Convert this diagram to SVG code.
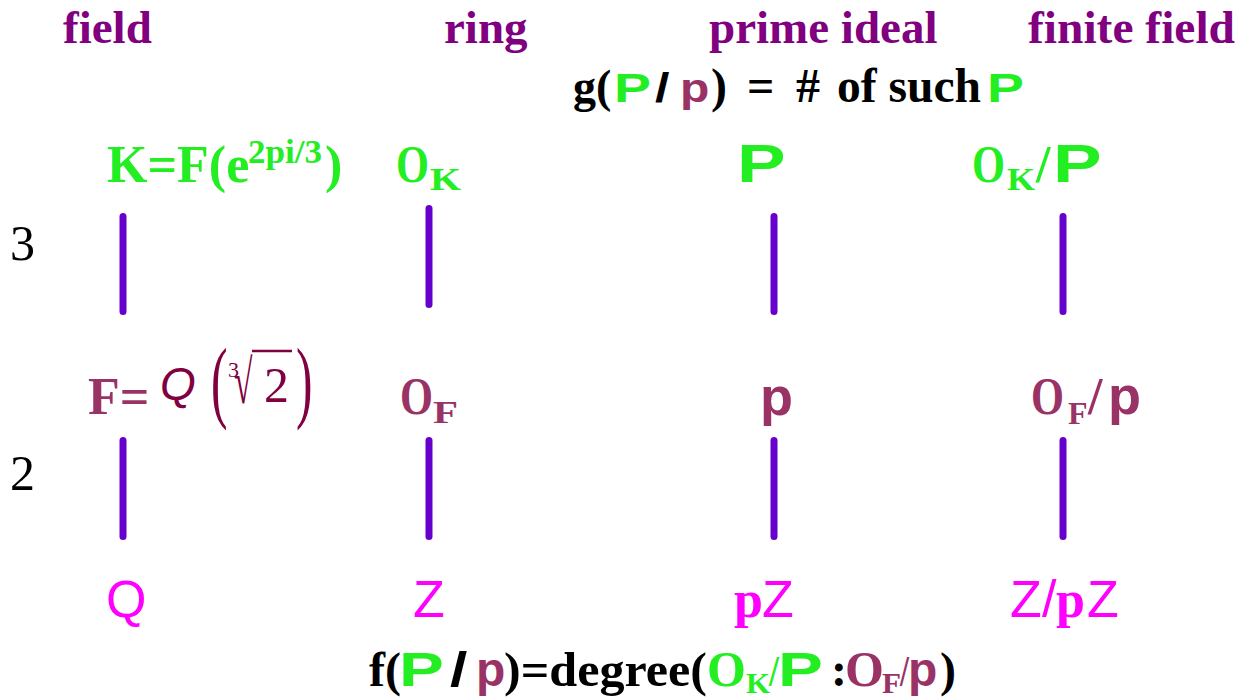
<svg xmlns="http://www.w3.org/2000/svg" width="1248" height="698" viewBox="0 0 1248 698">
<style>
.tb{font-family:"Liberation Serif","Times New Roman",serif;font-weight:bold}
.tr{font-family:"Liberation Serif","Times New Roman",serif}
.sb{font-family:"Liberation Sans",Arial,sans-serif;font-weight:bold}
.sr{font-family:"Liberation Sans",Arial,sans-serif}
.hd{fill:#800080;font-size:47px}
.g{fill:#22ee22}
.m{fill:#993366}
.dm{fill:#800040}
.mg{fill:#ff00ff}
.k{fill:#000000}
#connectors line{stroke:#6600cc;stroke-width:7;stroke-linecap:round}
</style>
<rect width="1248" height="698" fill="#ffffff"/>
<g id="headers">
<text class="tb hd" x="63" y="43">field</text>
<text class="tb hd" x="444" y="43">ring</text>
<text class="tb hd" x="709" y="43">prime ideal</text>
<text class="tb hd" x="1028" y="43" textLength="207" lengthAdjust="spacingAndGlyphs">finite field</text>
</g>
<g id="g-formula">
<text class="tb k" x="573" y="102" font-size="46">g(</text>
<text class="sb g" transform="translate(614,102) scale(1.35,1)" font-size="41">P</text>
<text class="sb k" transform="translate(655,102) scale(1.3,1)" font-size="40">/</text>
<text class="sb m" transform="translate(680,102) scale(1.2,1)" font-size="40">p</text>
<text class="tb k" x="711" y="102" font-size="48"><tspan x="711">)</tspan><tspan x="747">=</tspan><tspan x="796">#</tspan><tspan x="837" textLength="144" lengthAdjust="spacingAndGlyphs">of such</tspan></text>
<text class="sb g" transform="translate(987,102) scale(1.35,1)" font-size="41">P</text>
</g>
<g id="degrees">
<text class="tr k" x="10" y="260" font-size="50">3</text>
<text class="tr k" x="10" y="490" font-size="50">2</text>
</g>
<g id="node-K">
<text class="tb g" x="107" y="182" font-size="52">K=F(e</text>
<text class="tb g" x="248" y="163" font-size="34" textLength="74" lengthAdjust="spacingAndGlyphs">2pi/3</text>
<text class="tb g" x="325" y="182" font-size="52">)</text>
</g>
<g id="node-OK">
<text class="tb g" x="396" y="182" font-size="52" textLength="33" lengthAdjust="spacingAndGlyphs">O</text>
<text class="tb g" x="430" y="190" font-size="32" textLength="31" lengthAdjust="spacingAndGlyphs">K</text>
</g>
<g id="node-P">
<text class="sb g" transform="translate(737,182) scale(1.35,1)" font-size="54">P</text>
</g>
<g id="node-OK-P">
<text class="tb g" x="972" y="182" font-size="52" textLength="33" lengthAdjust="spacingAndGlyphs">O</text>
<text class="tb g" x="1007" y="190" font-size="32" textLength="28" lengthAdjust="spacingAndGlyphs">K</text>
<text class="tb g" x="1036" y="182" font-size="52">/</text>
<text class="sb g" transform="translate(1053,182) scale(1.35,1)" font-size="54">P</text>
</g>
<g id="node-F">
<text class="tb m" x="88" y="414" font-size="52">F=</text>
<text class="sr dm" x="160" y="400" font-size="46" font-style="italic">Q</text>
<text class="tr dm" transform="translate(211,411) scale(0.55,1)" font-size="90">(</text>
<text class="tr dm" x="228" y="377" font-size="22">3</text>
<text class="tr dm" transform="translate(234,403) scale(0.6,1.1)" font-size="56">√</text>
<line x1="252" y1="351" x2="292" y2="351" stroke="#800040" stroke-width="2.5"/>
<text class="tr dm" x="264" y="402" font-size="50">2</text>
<text class="tr dm" transform="translate(296,411) scale(0.55,1)" font-size="90">)</text>
</g>
<g id="node-OF">
<text class="tb m" x="400" y="414" font-size="52" textLength="33" lengthAdjust="spacingAndGlyphs">O</text>
<text class="tb m" x="433" y="423" font-size="32" textLength="25" lengthAdjust="spacingAndGlyphs">F</text>
</g>
<g id="node-p">
<text class="sb m" x="760" y="415" font-size="54">p</text>
</g>
<g id="node-OF-p">
<text class="tb m" x="1031" y="414" font-size="52" textLength="33" lengthAdjust="spacingAndGlyphs">O</text>
<text class="tb m" x="1068" y="424" font-size="32">F</text>
<text class="tb m" x="1088" y="414" font-size="52">/</text>
<text class="sb m" x="1108" y="414" font-size="54">p</text>
</g>
<g id="node-Q">
<text class="sr mg" x="106" y="617" font-size="52">Q</text>
</g>
<g id="node-Z">
<text class="sr mg" x="413" y="617" font-size="52">Z</text>
</g>
<g id="node-pZ">
<text class="tb mg" x="734" y="617" font-size="52">p</text>
<text class="sr mg" x="762" y="617" font-size="52">Z</text>
</g>
<g id="node-Z-pZ">
<text class="sr mg" x="1010" y="617" font-size="52">Z</text>
<text class="sr mg" x="1042" y="617" font-size="52">/</text>
<text class="tb mg" x="1056" y="617" font-size="52">p</text>
<text class="sr mg" x="1087" y="617" font-size="52">Z</text>
</g>
<g id="f-formula">
<text class="tb k" x="369" y="686" font-size="48">f(</text>
<text class="sb g" transform="translate(399,686) scale(1.4,1)" font-size="48">P</text>
<text class="sb k" transform="translate(450,686) scale(1.3,1)" font-size="48">/</text>
<text class="sb m" x="476" y="686" font-size="48">p</text>
<text class="tb k" x="504" y="686" font-size="48" textLength="203" lengthAdjust="spacingAndGlyphs">)=degree(</text>
<text class="tb g" x="707" y="686" font-size="50">O</text>
<text class="tb g" x="746" y="693" font-size="30" textLength="24" lengthAdjust="spacingAndGlyphs">K</text>
<text class="tb g" x="769" y="686" font-size="44" textLength="10" lengthAdjust="spacingAndGlyphs">/</text>
<text class="sb g" transform="translate(778,686) scale(1.4,1)" font-size="48">P</text>
<text class="tb k" x="831" y="686" font-size="48">:</text>
<text class="tb m" x="845" y="686" font-size="50">O</text>
<text class="tb m" x="882" y="693" font-size="30" textLength="19" lengthAdjust="spacingAndGlyphs">F</text>
<text class="tb m" x="900" y="686" font-size="44" textLength="9" lengthAdjust="spacingAndGlyphs">/</text>
<text class="sb m" x="908" y="686" font-size="48">p</text>
<text class="tb k" x="940" y="686" font-size="48">)</text>
</g>
<g id="connectors">
<line x1="123" y1="216.5" x2="123" y2="311.5"/>
<line x1="429" y1="208.5" x2="429" y2="304.5"/>
<line x1="774" y1="216.5" x2="774" y2="311.5"/>
<line x1="1063" y1="216.5" x2="1063" y2="311.5"/>
<line x1="123" y1="440.5" x2="123" y2="536.5"/>
<line x1="429" y1="440.5" x2="429" y2="536.5"/>
<line x1="774" y1="440.5" x2="774" y2="536.5"/>
<line x1="1063" y1="440.5" x2="1063" y2="536.5"/>
</g>
</svg>
